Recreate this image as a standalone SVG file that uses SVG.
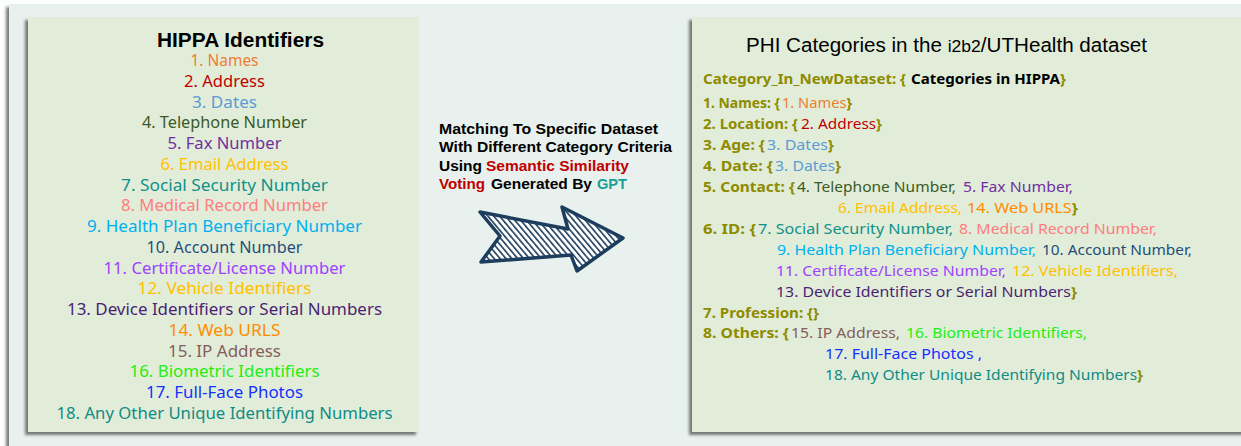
<svg xmlns="http://www.w3.org/2000/svg" width="1241" height="446" viewBox="0 0 1241 446">
<defs>
<filter id="sh" x="-5%" y="-5%" width="110%" height="110%">
<feDropShadow dx="-3" dy="3" stdDeviation="1.5" flood-color="#4a4f4c" flood-opacity="0.75"/>
</filter>
<pattern id="hatch" width="4.5" height="4.5" patternUnits="userSpaceOnUse" patternTransform="rotate(-40)">
<rect width="4.5" height="4.5" fill="#ffffff"/>
<rect width="1.6" height="4.5" fill="#1c3d5e"/>
</pattern>
<style>
.c{font-family:"Noto Sans","Open Sans",sans-serif;font-size:15.5px}
.r{font-family:"Noto Sans","Open Sans",sans-serif;font-size:15px}
.ct{text-anchor:middle}
.b{font-weight:bold}
.h{font-family:"Liberation Sans",Arial,sans-serif}
.k{fill:#000}
.ol{fill:#8e8b00;font-weight:bold}
.r .ol,.r .b{font-size:14.5px}
.c1{fill:#ed7d31}.c2{fill:#c00000}.c3{fill:#5b9bd5}.c4{fill:#3b5a25}.c5{fill:#7030a0}
.c6{fill:#ffc000}.c7{fill:#0f9189}.c8{fill:#ff7c80}.c9{fill:#00b0f0}.c10{fill:#1f4e79}
.c11{fill:#9d42ff}.c12{fill:#ffc000}.c13{fill:#4a1f74}.c14{fill:#ff8c00}.c15{fill:#855d5b}
.c16{fill:#22ee11}.c17{fill:#1530ff}.c18{fill:#0f8c86}
.red{fill:#c00000}.gpt{fill:#16a097}
.panel{fill:#e2edd9;filter:url(#sh)}
</style>
</defs>
<rect width="1241" height="446" fill="#fcfefd"/>
<g id="frame">
<rect x="9" y="4" width="1240" height="450" fill="#e9f1ee" filter="url(#sh)"/>
</g>
<g id="hippa">
<rect class="panel" x="28" y="17" width="391" height="415"/>
<text class="h b ct" x="240.5" y="47" font-size="20" textLength="167" lengthAdjust="spacingAndGlyphs">HIPPA Identifiers</text>
<g class="c ct">
<text class="c1" x="224.5" y="66" textLength="68" lengthAdjust="spacingAndGlyphs">1. Names</text>
<text class="c2" x="224.5" y="86.75" textLength="81" lengthAdjust="spacingAndGlyphs">2. Address</text>
<text class="c3" x="224.5" y="107.5" textLength="65" lengthAdjust="spacingAndGlyphs">3. Dates</text>
<text class="c4" x="224.5" y="128.25" textLength="165" lengthAdjust="spacingAndGlyphs">4. Telephone Number</text>
<text class="c5" x="224.5" y="149" textLength="114" lengthAdjust="spacingAndGlyphs">5. Fax Number</text>
<text class="c6" x="224.5" y="169.75" textLength="128" lengthAdjust="spacingAndGlyphs">6. Email Address</text>
<text class="c7" x="224.5" y="190.5" textLength="207" lengthAdjust="spacingAndGlyphs">7. Social Security Number</text>
<text class="c8" x="224.5" y="211.25" textLength="207" lengthAdjust="spacingAndGlyphs">8. Medical Record Number</text>
<text class="c9" x="224.5" y="232" textLength="275" lengthAdjust="spacingAndGlyphs">9. Health Plan Beneficiary Number</text>
<text class="c10" x="224.5" y="252.75" textLength="156" lengthAdjust="spacingAndGlyphs">10. Account Number</text>
<text class="c11" x="224.5" y="273.5" textLength="242" lengthAdjust="spacingAndGlyphs">11. Certificate/License Number</text>
<text class="c12" x="224.5" y="294.25" textLength="174" lengthAdjust="spacingAndGlyphs">12. Vehicle Identifiers</text>
<text class="c13" x="224.5" y="315" textLength="315" lengthAdjust="spacingAndGlyphs">13. Device Identifiers or Serial Numbers</text>
<text class="c14" x="224.5" y="335.75" textLength="112" lengthAdjust="spacingAndGlyphs">14. Web URLS</text>
<text class="c15" x="224.5" y="356.5" textLength="113" lengthAdjust="spacingAndGlyphs">15. IP Address</text>
<text class="c16" x="224.5" y="377.25" textLength="190" lengthAdjust="spacingAndGlyphs">16. Biometric Identifiers</text>
<text class="c17" x="224.5" y="398" textLength="157" lengthAdjust="spacingAndGlyphs">17. Full-Face Photos</text>
<text class="c18" x="224.5" y="418.75" textLength="336" lengthAdjust="spacingAndGlyphs">18. Any Other Unique Identifying Numbers</text>
</g>
</g>
<g id="connectors">
<g class="h b" font-size="15">
<text class="k" x="439" y="133.5" textLength="219" lengthAdjust="spacingAndGlyphs">Matching To Specific Dataset</text>
<text class="k" x="439" y="152" textLength="233" lengthAdjust="spacingAndGlyphs">With Different Category Criteria</text>
<text class="k" x="439" y="170.5" textLength="43" lengthAdjust="spacingAndGlyphs">Using</text>
<text class="red" x="486" y="170.5" textLength="143" lengthAdjust="spacingAndGlyphs">Semantic Similarity</text>
<text class="red" x="439" y="189" textLength="46" lengthAdjust="spacingAndGlyphs">Voting</text>
<text class="k" x="491" y="189" textLength="101" lengthAdjust="spacingAndGlyphs">Generated By</text>
<text class="gpt" x="597" y="189" textLength="30" lengthAdjust="spacingAndGlyphs">GPT</text>
</g>
<path d="M480,212 L568,229 L562,207 L623,238 L577,271 L571,255 L481,262 L500,236 Z" fill="url(#hatch)" stroke="#1c3d5e" stroke-width="3.5" stroke-linejoin="round"/>
</g>
<g id="phi">
<rect class="panel" x="692" y="17" width="560" height="415"/>
<text class="h k ct" x="946.5" y="52" font-size="20" textLength="401" lengthAdjust="spacingAndGlyphs">PHI Categories in the <tspan font-size="17">i2b2</tspan>/UTHealth dataset</text>
<g class="r">
<text class="ol" x="703" y="84" textLength="203" lengthAdjust="spacingAndGlyphs">Category_In_NewDataset: {</text>
<text x="911" y="84" textLength="155" lengthAdjust="spacingAndGlyphs"><tspan class="k b">Categories in HIPPA</tspan><tspan class="ol">}</tspan></text>

<text class="ol" x="703" y="108" textLength="77" lengthAdjust="spacingAndGlyphs">1. Names: {</text>
<text x="782" y="108" textLength="70" lengthAdjust="spacingAndGlyphs"><tspan class="c1">1. Names</tspan><tspan class="ol">}</tspan></text>

<text class="ol" x="703" y="129" textLength="95" lengthAdjust="spacingAndGlyphs">2. Location: {</text>
<text x="801" y="129" textLength="81" lengthAdjust="spacingAndGlyphs"><tspan class="c2">2. Address</tspan><tspan class="ol">}</tspan></text>

<text class="ol" x="703" y="150" textLength="62" lengthAdjust="spacingAndGlyphs">3. Age: {</text>
<text x="767" y="150" textLength="67" lengthAdjust="spacingAndGlyphs"><tspan class="c3">3. Dates</tspan><tspan class="ol">}</tspan></text>

<text class="ol" x="703" y="171" textLength="70" lengthAdjust="spacingAndGlyphs">4. Date: {</text>
<text x="775" y="171" textLength="66" lengthAdjust="spacingAndGlyphs"><tspan class="c3">3. Dates</tspan><tspan class="ol">}</tspan></text>

<text class="ol" x="703" y="192" textLength="92" lengthAdjust="spacingAndGlyphs">5. Contact: {</text>
<text class="c4" x="797" y="192" textLength="159" lengthAdjust="spacingAndGlyphs">4. Telephone Number,</text>
<text class="c5" x="963" y="192" textLength="110" lengthAdjust="spacingAndGlyphs">5. Fax Number,</text>

<text class="c6" x="838" y="213" textLength="124" lengthAdjust="spacingAndGlyphs">6. Email Address,</text>
<text x="967" y="213" textLength="111" lengthAdjust="spacingAndGlyphs"><tspan class="c14">14. Web URLS</tspan><tspan class="ol">}</tspan></text>

<text class="ol" x="703" y="234" textLength="53" lengthAdjust="spacingAndGlyphs">6. ID: {</text>
<text class="c7" x="758" y="234" textLength="195" lengthAdjust="spacingAndGlyphs">7. Social Security Number,</text>
<text class="c8" x="959" y="234" textLength="198" lengthAdjust="spacingAndGlyphs">8. Medical Record Number,</text>

<text class="c9" x="777" y="255" textLength="259" lengthAdjust="spacingAndGlyphs">9. Health Plan Beneficiary Number,</text>
<text class="c10" x="1042" y="255" textLength="150" lengthAdjust="spacingAndGlyphs">10. Account Number,</text>

<text class="c11" x="776" y="275.5" textLength="230" lengthAdjust="spacingAndGlyphs">11. Certificate/License Number,</text>
<text class="c12" x="1012" y="275.5" textLength="166" lengthAdjust="spacingAndGlyphs">12. Vehicle Identifiers,</text>

<text x="776" y="296.5" textLength="301" lengthAdjust="spacingAndGlyphs"><tspan class="c13">13. Device Identifiers or Serial Numbers</tspan><tspan class="ol">}</tspan></text>

<text class="ol" x="703" y="317.5" textLength="116" lengthAdjust="spacingAndGlyphs">7. Profession: {}</text>

<text class="ol" x="703" y="338" textLength="86" lengthAdjust="spacingAndGlyphs">8. Others: {</text>
<text class="c15" x="791" y="338" textLength="109" lengthAdjust="spacingAndGlyphs">15. IP Address,</text>
<text class="c16" x="906" y="338" textLength="181" lengthAdjust="spacingAndGlyphs">16. Biometric Identifiers,</text>

<text class="c17" x="825" y="359" textLength="157" lengthAdjust="spacingAndGlyphs">17. Full-Face Photos ,</text>

<text x="825" y="379.5" textLength="318" lengthAdjust="spacingAndGlyphs"><tspan class="c18">18. Any Other Unique Identifying Numbers</tspan><tspan class="ol">}</tspan></text>
</g>
</g>
</svg>
